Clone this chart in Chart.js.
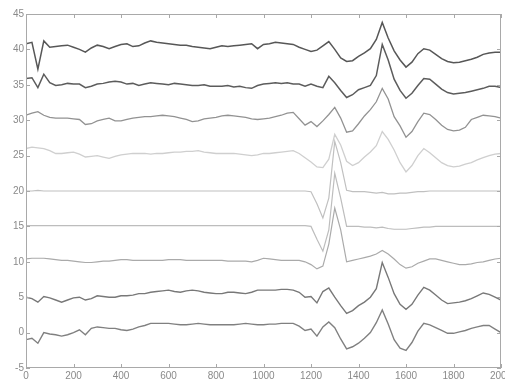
<!DOCTYPE html>
<html>
<head>
<meta charset="utf-8">
<script src="https://cdn.jsdelivr.net/npm/chart.js@4/dist/chart.umd.min.js"></script>
<style>
  html, body { margin: 0; padding: 0; background: #ffffff; }
  #plot { display: block; }
</style>
</head>
<body>
<canvas id="plot" width="505" height="381"></canvas>
<script>
// Wavenumber grid shared by all traces
const wavenumbers = [
  0, 25, 50, 75, 100, 125, 150, 175, 200, 225,
  250, 275, 300, 325, 350, 375, 400, 425, 450, 475,
  500, 525, 550, 575, 600, 625, 650, 675, 700, 725,
  750, 775, 800, 825, 850, 875, 900, 925, 950, 975,
  1000, 1025, 1050, 1075, 1100, 1125, 1150, 1175, 1200, 1225,
  1250, 1275, 1300, 1325, 1350, 1375, 1400, 1425, 1450, 1475,
  1500, 1525, 1550, 1575, 1600, 1625, 1650, 1675, 1700, 1725,
  1750, 1775, 1800, 1825, 1850, 1875, 1900, 1925, 1950, 1975,
  2000
];

// Stacked traces (each offset by 5 units)
const trace40 = [
  40.8, 41.0, 37.2, 41.2, 40.3, 40.4, 40.5, 40.6, 40.3, 40.0,
  39.6, 40.2, 40.6, 40.4, 40.1, 40.4, 40.7, 40.8, 40.4, 40.5,
  40.9, 41.2, 41.0, 40.9, 40.8, 40.7, 40.6, 40.6, 40.4, 40.3,
  40.2, 40.1, 40.3, 40.5, 40.4, 40.5, 40.6, 40.7, 40.8, 40.1,
  40.7, 40.8, 41.0, 40.9, 40.8, 40.7, 40.3, 40.0, 39.7, 39.9,
  40.5, 41.1, 40.0, 38.8, 38.3, 38.4, 39.0, 39.5, 40.1, 41.4,
  43.8, 41.6, 39.8, 38.5, 37.5, 38.2, 39.4, 40.1, 39.9, 39.3,
  38.7, 38.3, 38.1, 38.2, 38.4, 38.6, 38.9, 39.3, 39.5, 39.6,
  39.6
];
const trace35 = [
  35.9, 36.0, 34.6, 36.5, 35.3, 34.9, 35.0, 35.2, 35.1, 35.1,
  34.6, 34.8, 35.1, 35.2, 35.4, 35.5, 35.4, 35.1, 35.2, 34.9,
  35.1, 35.3, 35.2, 35.1, 35.0, 35.2, 35.1, 35.0, 34.9, 34.9,
  35.0, 34.8, 34.8, 34.8, 34.9, 34.7, 34.8, 34.6, 34.5, 34.9,
  35.1, 35.2, 35.3, 35.2, 35.3, 35.1, 35.1, 34.8, 35.1, 34.8,
  34.6, 36.2, 35.3, 34.2, 33.2, 33.6, 34.3, 34.6, 34.9, 36.3,
  40.7, 38.5, 35.8, 34.2, 33.1, 33.8, 34.9, 35.9, 35.8, 35.1,
  34.4, 33.9, 33.7, 33.8, 33.9, 34.1, 34.3, 34.5, 34.8, 34.8,
  34.6
];
const trace30 = [
  30.7, 31.0, 31.2, 30.7, 30.4, 30.3, 30.3, 30.3, 30.2, 30.1,
  29.4, 29.5, 29.9, 30.1, 30.3, 29.9, 29.9, 30.1, 30.3, 30.4,
  30.5, 30.5, 30.6, 30.7, 30.6, 30.5, 30.3, 30.1, 29.8, 29.9,
  30.2, 30.3, 30.4, 30.6, 30.7, 30.6, 30.5, 30.4, 30.2, 30.1,
  30.2, 30.3, 30.5, 30.7, 31.0, 31.1, 30.2, 29.3, 29.8, 29.1,
  29.9, 30.8, 31.8, 30.3, 28.3, 28.5, 29.5, 30.6, 31.5, 32.6,
  34.5, 33.0, 30.5, 29.2, 27.6, 28.4, 29.8, 31.0, 30.8, 30.1,
  29.3, 28.7, 28.5, 28.6, 29.0, 30.1, 30.4, 30.7, 30.6, 30.5,
  30.3
];
const trace25 = [
  26.0, 26.2, 26.1, 26.0, 25.7, 25.3, 25.3, 25.4, 25.5, 25.2,
  24.8, 24.9, 25.0, 24.8, 24.6, 24.9, 25.1, 25.2, 25.3, 25.3,
  25.3, 25.2, 25.3, 25.3, 25.4, 25.5, 25.5, 25.6, 25.6, 25.7,
  25.5, 25.4, 25.3, 25.3, 25.3, 25.3, 25.2, 25.1, 25.0, 25.1,
  25.3, 25.3, 25.4, 25.5, 25.6, 25.7, 25.3, 24.7, 24.1, 23.4,
  23.3, 24.5, 28.0, 26.5, 24.2, 23.6, 24.0, 24.8, 25.5, 26.4,
  28.4, 27.3, 25.8, 24.0, 22.7, 23.6, 25.0, 26.0, 25.4, 24.7,
  24.0, 23.6, 23.4, 23.5, 23.8, 24.0, 24.4, 24.7, 25.0, 25.2,
  25.3
];
const trace20 = [
  20.0, 20.0, 20.1, 20.0, 20.0, 20.0, 20.0, 20.0, 20.0, 20.0,
  20.0, 20.0, 20.0, 20.0, 20.0, 20.0, 20.0, 20.0, 20.0, 20.0,
  20.0, 20.0, 20.0, 20.0, 20.0, 20.0, 20.0, 20.0, 20.0, 20.0,
  20.0, 20.0, 20.0, 20.0, 20.0, 20.0, 20.0, 20.0, 20.0, 20.0,
  20.0, 20.0, 20.0, 20.0, 20.0, 20.0, 20.0, 20.0, 19.9, 18.2,
  16.2, 19.0, 27.0, 24.0, 20.1, 19.9, 19.9, 19.9, 19.8, 19.7,
  19.8, 19.6, 19.6, 19.7, 19.7, 19.8, 19.9, 19.9, 20.0, 20.0,
  20.0, 20.0, 20.0, 20.0, 20.0, 20.0, 20.0, 20.0, 20.0, 20.0,
  20.0
];
const trace15 = [
  15.1, 15.1, 15.1, 15.1, 15.1, 15.1, 15.1, 15.1, 15.1, 15.1,
  15.1, 15.1, 15.1, 15.1, 15.1, 15.1, 15.1, 15.1, 15.1, 15.1,
  15.1, 15.1, 15.1, 15.1, 15.1, 15.1, 15.1, 15.1, 15.1, 15.1,
  15.1, 15.1, 15.1, 15.1, 15.1, 15.1, 15.1, 15.1, 15.1, 15.1,
  15.1, 15.1, 15.1, 15.1, 15.1, 15.1, 15.1, 15.1, 15.0, 13.2,
  11.5, 14.5, 22.5, 19.0, 15.0, 15.0, 15.0, 14.9, 14.9, 14.8,
  14.9, 14.7, 14.6, 14.6, 14.6, 14.7, 14.8, 14.9, 14.9, 15.0,
  15.0, 15.0, 15.0, 15.0, 15.0, 15.0, 15.0, 15.0, 15.0, 15.0,
  15.0
];
const trace10 = [
  10.4, 10.5, 10.5, 10.5, 10.4, 10.3, 10.2, 10.2, 10.1, 10.0,
  9.9, 9.9, 10.0, 10.1, 10.1, 10.2, 10.3, 10.3, 10.2, 10.2,
  10.2, 10.2, 10.2, 10.2, 10.3, 10.3, 10.3, 10.2, 10.2, 10.2,
  10.2, 10.2, 10.2, 10.2, 10.1, 10.1, 10.1, 10.1, 10.0, 10.2,
  10.5, 10.4, 10.3, 10.2, 10.2, 10.2, 10.2, 10.0, 9.6, 9.0,
  9.4, 12.5, 17.6, 14.5, 10.0, 10.2, 10.4, 10.6, 10.8, 11.1,
  11.6, 11.1, 10.4, 9.6, 9.1, 9.3, 9.8, 10.1, 10.4, 10.4,
  10.2, 10.0, 9.8, 9.6, 9.6, 9.7, 9.9, 10.0, 10.2, 10.4,
  10.5
];
const trace5 = [
  5.0, 4.8, 4.3, 5.1, 4.9, 4.6, 4.3, 4.6, 4.9, 5.0,
  4.6, 4.8, 5.2, 5.1, 5.0, 5.0, 5.2, 5.2, 5.3, 5.5,
  5.5, 5.7, 5.8, 5.9, 6.0, 5.8, 5.7, 5.9, 6.0, 5.9,
  5.7, 5.6, 5.5, 5.5, 5.7, 5.7, 5.6, 5.5, 5.7, 6.0,
  6.0, 6.0, 6.0, 6.1, 6.1, 6.0, 5.7, 5.0, 5.1, 4.2,
  5.8, 6.3, 5.0, 3.8, 2.7, 3.1, 3.8, 4.3, 5.0, 6.2,
  9.9, 7.8, 5.5, 4.0, 3.3, 4.0, 5.3, 6.4, 6.0, 5.3,
  4.6, 4.1, 4.2, 4.3, 4.5, 4.8, 5.2, 5.6, 5.4, 5.0,
  4.6
];
const trace0 = [
  -1.0, -0.8, -1.5, 0.0, -0.2, -0.3, -0.5, -0.3, 0.0, 0.4,
  -0.3, 0.6, 0.8, 0.7, 0.6, 0.6, 0.4, 0.3, 0.5, 0.8,
  1.0, 1.3, 1.3, 1.3, 1.3, 1.2, 1.1, 1.1, 1.2, 1.3,
  1.2, 1.1, 1.1, 1.1, 1.1, 1.1, 1.2, 1.3, 1.2, 1.1,
  1.1, 1.2, 1.2, 1.3, 1.3, 1.3, 0.9, 0.3, 0.5, -0.5,
  0.8, 1.5, 0.7, -0.9, -2.3, -2.0, -1.5, -0.8, 0.0, 1.4,
  3.2, 1.2, -1.0, -2.2, -2.5, -1.4, 0.2, 1.3, 1.1, 0.7,
  0.3, -0.1, -0.1, 0.1, 0.3, 0.6, 0.8, 1.0, 1.0, 0.5,
  0.0
];

// Axis tick values
const xTickValues = [0, 200, 400, 600, 800, 1000, 1200, 1400, 1600, 1800, 2000];
const yTickValues = [-5, 0, 5, 10, 15, 20, 25, 30, 35, 40, 45];

const traces = [
  { values: trace40, color: '#575757', width: 1.5 },
  { values: trace35, color: '#5c5c5c', width: 1.5 },
  { values: trace30, color: '#929292', width: 1.3 },
  { values: trace25, color: '#cfcfcf', width: 1.3 },
  { values: trace20, color: '#c0c0c0', width: 1.2 },
  { values: trace15, color: '#bdbdbd', width: 1.2 },
  { values: trace10, color: '#aaaaaa', width: 1.2 },
  { values: trace5,  color: '#787878', width: 1.4 },
  { values: trace0,  color: '#808080', width: 1.4 }
];

const datasets = traces.map(t => ({
  data: wavenumbers.map((x, i) => ({ x: x, y: t.values[i] })),
  borderColor: t.color,
  borderWidth: t.width,
  pointRadius: 0,
  tension: 0,
  fill: false
}));

const frameColor = '#a9a9a9';

// Box around the plot area with short inward ticks on all four sides
const boxFrame = {
  id: 'boxFrame',
  afterDraw(chart) {
    const { ctx, chartArea: a, scales } = chart;
    const len = 4;
    ctx.save();
    ctx.strokeStyle = frameColor;
    ctx.lineWidth = 1;
    ctx.strokeRect(a.left + 0.5, a.top + 0.5, a.right - a.left - 1, a.bottom - a.top - 1);
    ctx.beginPath();
    xTickValues.forEach(v => {
      const px = Math.round(scales.x.getPixelForValue(v)) + 0.5;
      ctx.moveTo(px, a.bottom); ctx.lineTo(px, a.bottom - len);
      ctx.moveTo(px, a.top); ctx.lineTo(px, a.top + len);
    });
    yTickValues.forEach(v => {
      const py = Math.round(scales.y.getPixelForValue(v)) + 0.5;
      ctx.moveTo(a.left, py); ctx.lineTo(a.left + len, py);
      ctx.moveTo(a.right, py); ctx.lineTo(a.right - len, py);
    });
    ctx.stroke();
    ctx.restore();
  }
};

const tickFont = { family: 'Liberation Sans, Arial, sans-serif', size: 10 };
const plainNumber = v => String(v);

new Chart(document.getElementById('plot'), {
  type: 'line',
  data: { datasets: datasets },
  options: {
    responsive: false,
    animation: false,
    devicePixelRatio: 1,
    layout: { padding: { top: 14, right: 4, left: 0, bottom: 0 } },
    plugins: { legend: { display: false }, tooltip: { enabled: false } },
    scales: {
      x: {
        type: 'linear',
        min: 0,
        max: 2000,
        afterBuildTicks: s => { s.ticks = xTickValues.map(v => ({ value: v })); },
        afterFit: s => { s.height = 13; s.paddingLeft = 0; s.paddingRight = 0; },
        ticks: { autoSkip: false, maxRotation: 0, padding: 2, color: '#8a8a8a', font: tickFont, callback: plainNumber },
        grid: { display: false, drawTicks: false },
        border: { display: false }
      },
      y: {
        type: 'linear',
        min: -5,
        max: 45,
        afterBuildTicks: s => { s.ticks = yTickValues.map(v => ({ value: v })); },
        afterFit: s => { s.width = 26; s.paddingTop = 0; s.paddingBottom = 0; },
        ticks: { autoSkip: false, padding: 2, color: '#8a8a8a', font: tickFont, callback: plainNumber },
        grid: { display: false, drawTicks: false },
        border: { display: false }
      }
    }
  },
  plugins: [boxFrame]
});
</script>
</body>
</html>
